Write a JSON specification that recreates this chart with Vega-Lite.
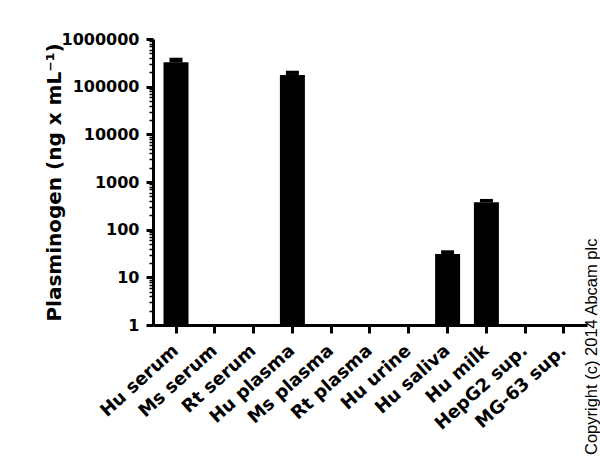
{
  "$schema": "https://vega.github.io/schema/vega-lite/v6.json",
  "autosize": {"type": "none"},
  "padding": {"left": 153, "top": 39, "right": 13, "bottom": 136},
  "width": 434,
  "height": 286,
  "background": "white",
  "config": {"view": {"stroke": null}},
  "title": {
    "text": "Copyright (c) 2014 Abcam plc",
    "orient": "right",
    "anchor": "end",
    "frame": "group",
    "angle": -90,
    "align": "left",
    "baseline": "alphabetic",
    "dx": -130,
    "dy": -17,
    "font": "Liberation Sans",
    "fontSize": 16.5,
    "fontWeight": "normal",
    "color": "black",
    "offset": 10
  },
  "data": {
    "values": [
      {"sample": "Hu serum", "value": 324000, "upper": 405000},
      {"sample": "Ms serum", "value": null, "upper": null},
      {"sample": "Rt serum", "value": null, "upper": null},
      {"sample": "Hu plasma", "value": 176000, "upper": 216000},
      {"sample": "Ms plasma", "value": null, "upper": null},
      {"sample": "Rt plasma", "value": null, "upper": null},
      {"sample": "Hu urine", "value": null, "upper": null},
      {"sample": "Hu saliva", "value": 30.9, "upper": 36.9},
      {"sample": "Hu milk", "value": 375, "upper": 441},
      {"sample": "HepG2 sup.", "value": null, "upper": null},
      {"sample": "MG-63 sup.", "value": null, "upper": null}
    ]
  },
  "encoding": {
    "x": {
      "field": "sample",
      "type": "nominal",
      "sort": null,
      "scale": {
        "domain": ["Hu serum", "Ms serum", "Rt serum", "Hu plasma", "Ms plasma", "Rt plasma", "Hu urine", "Hu saliva", "Hu milk", "HepG2 sup.", "MG-63 sup."],
        "paddingInner": 0.356,
        "paddingOuter": 0.271
      },
      "axis": {
        "title": null,
        "labelAngle": -42,
        "labelAlign": "right",
        "labelBaseline": "middle",
        "labelFont": "DejaVu Sans",
        "labelFontWeight": "bold",
        "labelFontSize": 18,
        "labelColor": "black",
        "labelPadding": 15,
        "tickSize": 8,
        "tickWidth": 3,
        "tickColor": "black",
        "domainWidth": 3,
        "domainColor": "black",
        "grid": false
      }
    }
  },
  "layer": [
    {
      "mark": {"type": "bar", "color": "black"},
      "encoding": {
        "y": {
          "field": "value",
          "type": "quantitative",
          "stack": null,
          "scale": {"type": "log", "domain": [1, 1000000], "nice": false},
          "axis": {
            "orient": "left",
            "values": [1, 10, 100, 1000, 10000, 100000, 1000000],
            "format": "d",
            "title": "Plasminogen (ng x mL⁻¹)",
            "titleFont": "DejaVu Sans",
            "titleFontWeight": "bold",
            "titleFontSize": 20,
            "titleColor": "black",
            "titlePadding": -3,
            "labelFont": "DejaVu Sans",
            "labelFontWeight": "bold",
            "labelFontSize": 16,
            "labelColor": "black",
            "labelPadding": 7,
            "tickSize": 7,
            "tickWidth": 3,
            "tickColor": "black",
            "domainWidth": 3,
            "domainColor": "black",
            "grid": false
          }
        },
        "y2": {"datum": 1}
      }
    },
    {
      "mark": {"type": "bar", "color": "black", "size": 13},
      "encoding": {
        "y": {
          "field": "value",
          "type": "quantitative",
          "stack": null,
          "axis": {
            "orient": "left",
            "values": [2,3,4,5,6,7,8,9,20,30,40,50,60,70,80,90,200,300,400,500,600,700,800,900,2000,3000,4000,5000,6000,7000,8000,9000,20000,30000,40000,50000,60000,70000,80000,90000,200000,300000,400000,500000,600000,700000,800000,900000],
            "labels": false,
            "title": null,
            "domain": false,
            "tickSize": 4,
            "tickWidth": 1.5,
            "tickColor": "black",
            "grid": false
          }
        },
        "y2": {"field": "upper"}
      }
    }
  ],
  "resolve": {"axis": {"y": "independent"}}
}
